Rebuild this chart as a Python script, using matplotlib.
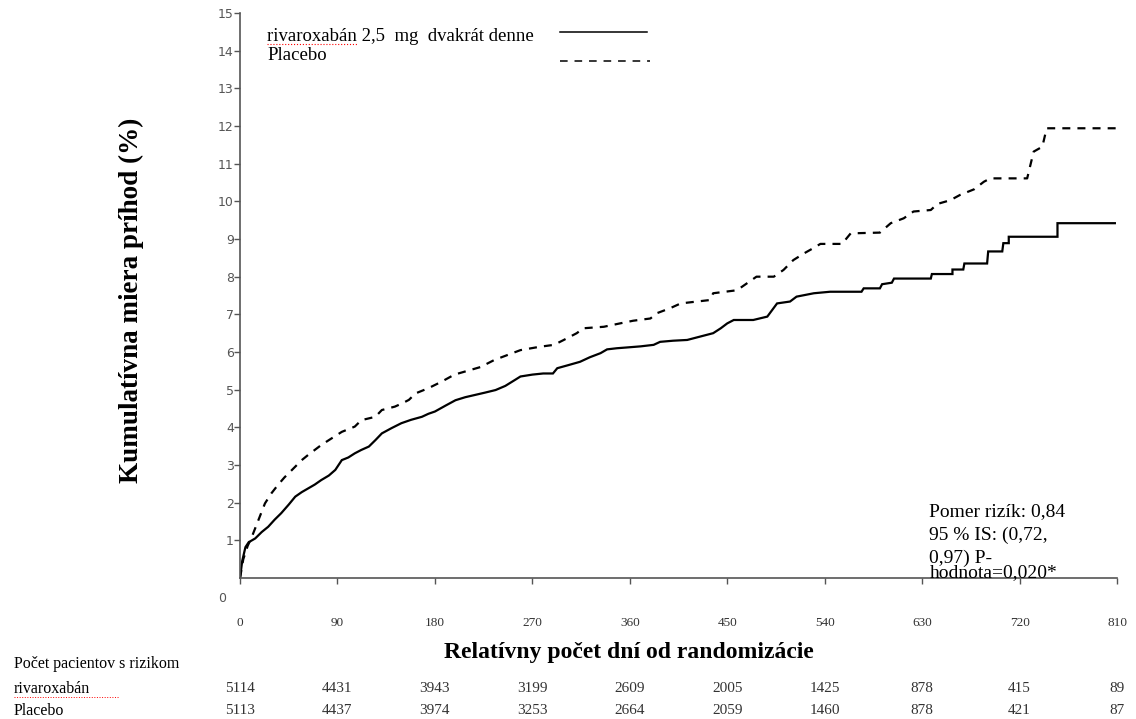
import numpy as np
import matplotlib.pyplot as plt
import matplotlib.transforms as mtransforms

# Kaplan-Meier curves (day, cumulative event rate %)
riva_days = [0, 2, 5, 8, 14, 20, 26, 32, 38, 45, 51, 57, 63, 69, 75, 82, 88, 94, 100, 106,
             112, 119, 125, 131, 140, 149, 158, 168, 174, 180, 190, 199, 208, 217, 226, 236,
             245, 254, 259, 270, 280, 289, 293, 303, 314, 323, 333, 339, 348, 357, 370, 382,
             388, 400, 413, 425, 437, 444, 450, 456, 474, 487, 496, 508, 514, 530, 545, 574,
             576, 591, 593, 602, 604, 638, 639, 658, 658, 668, 669, 690, 691, 704, 705, 710,
             710, 755, 755, 808]
riva_vals = [0, 0.45, 0.82, 0.95, 1.05, 1.22, 1.36, 1.55, 1.72, 1.95, 2.16, 2.28, 2.38, 2.48,
             2.6, 2.72, 2.87, 3.13, 3.2, 3.31, 3.4, 3.49, 3.66, 3.84, 3.98, 4.11, 4.2, 4.28,
             4.36, 4.42, 4.58, 4.72, 4.8, 4.86, 4.92, 4.99, 5.1, 5.26, 5.35, 5.4, 5.43, 5.43,
             5.57, 5.65, 5.74, 5.86, 5.97, 6.07, 6.1, 6.12, 6.15, 6.19, 6.27, 6.3, 6.32, 6.41,
             6.5, 6.63, 6.76, 6.85, 6.85, 6.94, 7.29, 7.34, 7.47, 7.56, 7.6, 7.6, 7.69, 7.69,
             7.8, 7.84, 7.95, 7.95, 8.07, 8.07, 8.19, 8.19, 8.35, 8.35, 8.67, 8.67, 8.89, 8.89,
             9.06, 9.06, 9.42, 9.42]

plac_days = [0, 3, 7, 11, 17, 23, 29, 35, 41, 48, 57, 63, 69, 75, 82, 88, 94, 106, 112, 125,
             131, 143, 150, 156, 162, 174, 186, 198, 210, 222, 235, 247, 259, 277, 290, 299,
             311, 317, 336, 351, 363, 379, 385, 397, 407, 434, 437, 459, 468, 477, 493, 502,
             511, 521, 529, 536, 556, 564, 591, 601, 613, 622, 638, 644, 656, 665, 678, 687,
             693, 727, 733, 741, 745, 810]
plac_vals = [0, 0.5, 0.85, 1.1, 1.54, 1.98, 2.25, 2.47, 2.67, 2.87, 3.13, 3.27, 3.4, 3.53, 3.66,
             3.77, 3.88, 4.02, 4.19, 4.28, 4.46, 4.55, 4.64, 4.73, 4.9, 5.04, 5.21, 5.4, 5.5,
             5.6, 5.79, 5.92, 6.05, 6.14, 6.19, 6.32, 6.5, 6.63, 6.67, 6.76, 6.83, 6.89, 7.03,
             7.16, 7.29, 7.38, 7.56, 7.64, 7.82, 8.0, 8.0, 8.18, 8.44, 8.62, 8.75, 8.87, 8.87,
             9.15, 9.17, 9.42, 9.55, 9.73, 9.77, 9.93, 10.03, 10.17, 10.32, 10.52, 10.61,
             10.61, 11.32, 11.45, 11.94, 11.94]

x_ticks = [0, 90, 180, 270, 360, 450, 540, 630, 720, 810]
y_ticks = list(range(1, 16))
risk_riva = [5114, 4431, 3943, 3199, 2609, 2005, 1425, 878, 415, 89]
risk_plac = [5113, 4437, 3974, 3253, 2664, 2059, 1460, 878, 421, 87]

label_riva = "rivaroxabán 2,5  mg  dvakrát denne"
label_plac = "Placebo"
stats_lines = ["Pomer rizík: 0,84", "95 % IS: (0,72,", "0,97) P-", "hodnota=0,020*"]

serif = "Liberation Serif"
grey = "#555555"

fig = plt.figure(figsize=(11.36, 7.19), dpi=100)
ax = fig.add_axes([0.2113, 0.1961, 0.772, 0.7858])

ax.plot(riva_days, riva_vals, color="black", lw=1.6, solid_joinstyle="miter")
ax.plot(plac_days, plac_vals, color="black", lw=1.6, dashes=(3.6, 3.2))

ax.set_xlim(0, 810)
ax.set_ylim(0, 15)
ax.spines["top"].set_visible(False)
ax.spines["right"].set_visible(False)
for s in ["left", "bottom"]:
    ax.spines[s].set_color(grey)
    ax.spines[s].set_linewidth(1.2)

ax.set_yticks(y_ticks)
ax.set_yticklabels([str(v) for v in y_ticks], fontsize=9, color=grey)
ax.tick_params(axis="y", direction="out", length=4, width=1, color=grey, pad=0.5)
ax.set_xticks(x_ticks)
ax.set_xticklabels([str(v) for v in x_ticks], fontsize=9.5, family=serif, color="#333333")
ax.tick_params(axis="x", direction="out", length=4, width=1, color=grey, pad=24)

# lone "0" under the y axis
ax.text(-0.0205, -0.036, "0", transform=ax.transAxes, fontsize=9, color=grey,
        ha="center", va="center")

ax.set_ylabel("Kumulatívna miera príhod (%)", fontsize=19.5, family=serif, weight="bold")
ax.yaxis.set_label_coords(-0.11, 0.492)
ax.set_xlabel("Relatívny počet dní od randomizácie", fontsize=17, family=serif, weight="bold")
ax.xaxis.set_label_coords(0.4436, -0.114)

# legend drawn by hand: text left, sample line on the right
ax.text(0.031, 0.950, label_riva, transform=ax.transAxes, fontsize=13.5, family=serif,
        va="baseline", ha="left")
ax.text(0.031, 0.917, label_plac, transform=ax.transAxes, fontsize=13.5, family=serif,
        va="baseline", ha="left")
ax.plot([0.365, 0.464], [0.966, 0.966], transform=ax.transAxes, color="black", lw=1.1,
        clip_on=False)
ax.plot([0.365, 0.468], [0.915, 0.915], transform=ax.transAxes, color="black", lw=1.1,
        dashes=(5, 4.5), clip_on=False)
ax.plot([0.031, 0.133], [0.946, 0.946], transform=ax.transAxes, color="red", lw=0.8,
        ls=":", clip_on=False)

# hazard ratio box
for txt, yy in zip(stats_lines, [0.1168, 0.076, 0.0354, 0.0088]):
    ax.text(0.786, yy, txt, transform=ax.transAxes, fontsize=14, family=serif,
            va="center", ha="left")

# number at risk table
trans = mtransforms.blended_transform_factory(ax.transData, fig.transFigure)
fig.text(0.0123, 1 - 664 / 719, "Počet pacientov s rizikom", fontsize=11.5, family=serif,
         va="center", ha="left")
fig.text(0.0123, 1 - 689 / 719, "rivaroxabán", fontsize=11.5, family=serif,
         va="center", ha="left")
fig.text(0.0123, 1 - 711 / 719, "Placebo", fontsize=11.5, family=serif,
         va="center", ha="left")
fig.add_artist(plt.Line2D([0.0123, 0.105], [1 - 697 / 719, 1 - 697 / 719], color="red",
                          lw=0.7, ls=":"))
for d, n in zip(x_ticks, risk_riva):
    ax.text(d, 1 - 689 / 719, str(n), transform=trans, fontsize=11, family=serif,
            color="#333333", ha="center", va="center")
for d, n in zip(x_ticks, risk_plac):
    ax.text(d, 1 - 711 / 719, str(n), transform=trans, fontsize=11, family=serif,
            color="#333333", ha="center", va="center")

fig.savefig("out.png", dpi=100)
